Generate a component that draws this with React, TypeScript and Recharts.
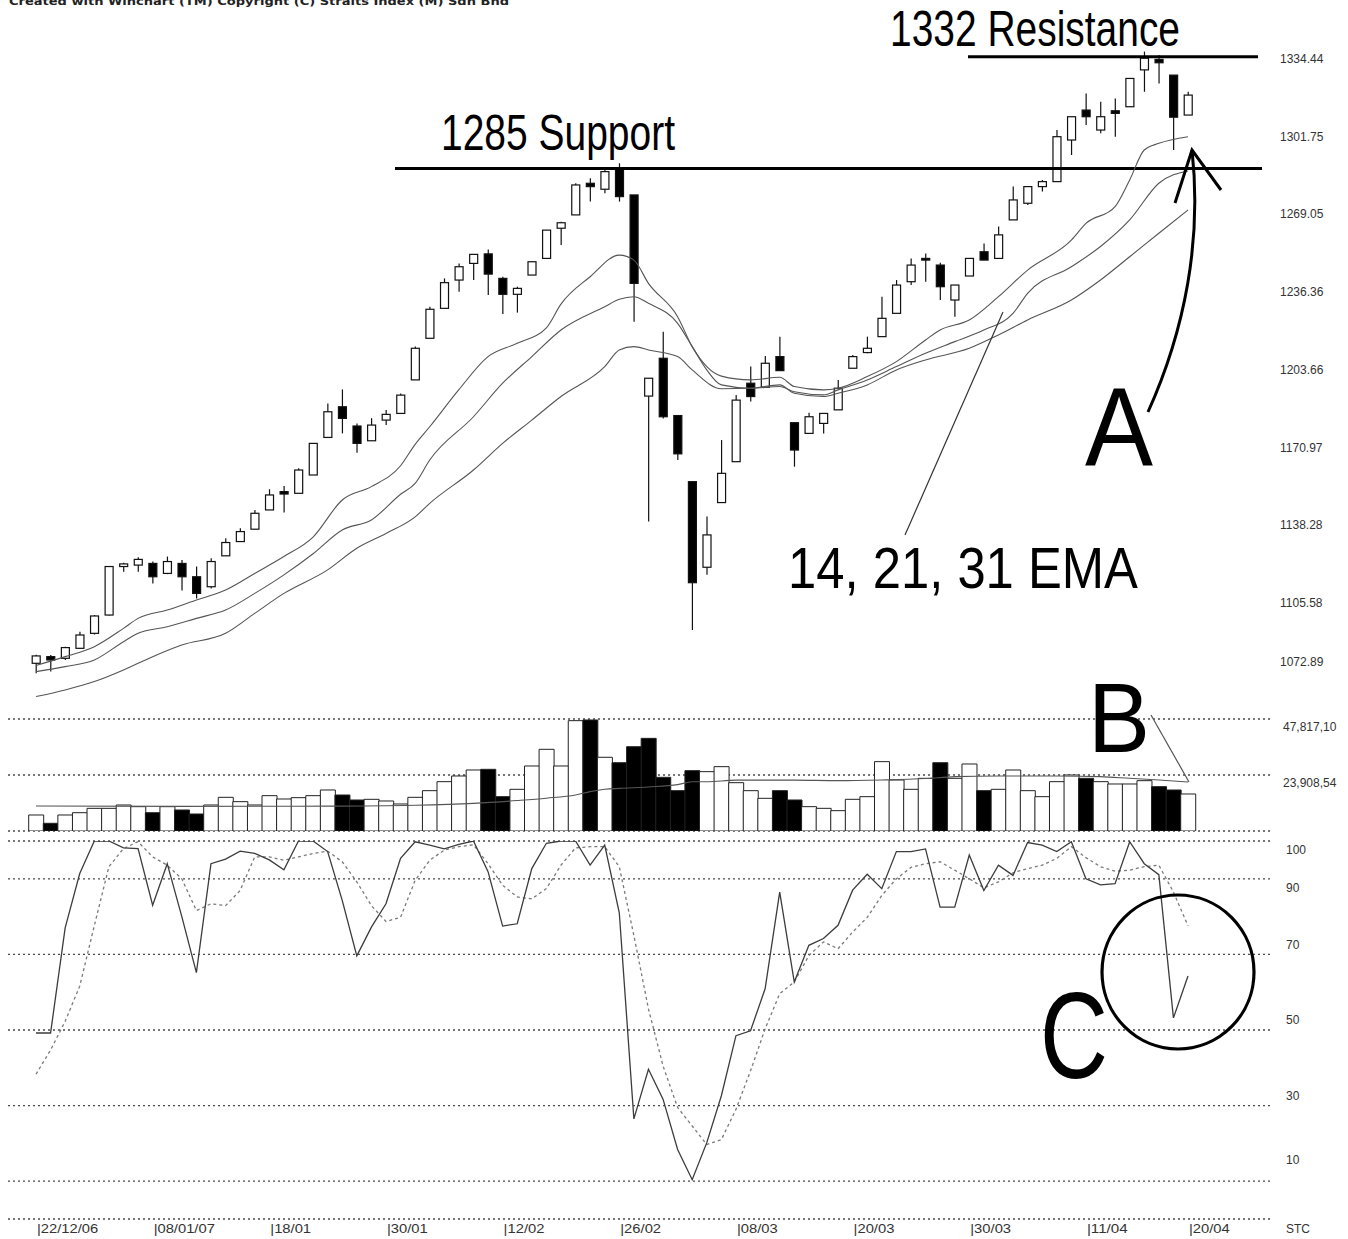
import React from 'react';
import { ComposedChart, Bar, Line, XAxis, YAxis, CartesianGrid, ReferenceLine, Cell } from 'recharts';

// ---------- categories / ticks ----------
const dateTicks = [0, 8, 16, 24, 32, 40, 48, 56, 64, 72, 79];
const dateLabels = ['22/12/06', '08/01/07', '18/01', '30/01', '12/02', '26/02', '08/03', '20/03', '30/03', '11/04', '20/04'];
const priceTicks = [1072.89, 1105.58, 1138.28, 1170.97, 1203.66, 1236.36, 1269.05, 1301.75, 1334.44];
const volTicks = [0, 23908.54, 47817.08];
const volTickLabels = ['', '23,908,54', '47,817,10'];
const stcTicks = [0, 10, 30, 50, 70, 90, 100];
const stcTickLabels = ['STC', '10', '30', '50', '70', '90', '100'];

// ---------- price (OHLC) ----------
const opens = [
  1076.9, 1079.7, 1079.0, 1083.2, 1089.5, 1097.2, 1117.6, 1118.2, 1118.9, 1114.7,
  1118.9, 1113.3, 1109.1, 1122.1, 1128.1, 1133.3, 1141.4, 1149.1, 1148.4, 1156.1,
  1171.9, 1184.8, 1176.7, 1170.5, 1179.2, 1182.0, 1196.1, 1213.6, 1226.2, 1238.1,
  1245.1, 1249.1, 1238.8, 1232.1, 1240.2, 1247.2, 1259.9, 1265.5, 1278.8, 1276.3,
  1285.1, 1273.9, 1189.3, 1205.2, 1181.1, 1153.3, 1117.3, 1144.5, 1161.7, 1194.7,
  1193.0, 1205.9, 1178.1, 1173.6, 1177.8, 1183.5, 1201.0, 1207.6, 1214.3, 1224.1,
  1237.4, 1247.2, 1244.4, 1229.7, 1239.8, 1250.0, 1247.2, 1263.4, 1270.4, 1277.4,
  1279.5, 1297.0, 1309.6, 1301.2, 1309.3, 1311.0, 1326.5, 1330.9, 1324.3, 1307.5,
];
const highs = [
  1080.5, 1080.4, 1083.9, 1090.2, 1097.2, 1117.8, 1119.2, 1121.5, 1119.7, 1121.8,
  1120.3, 1117.6, 1121.1, 1129.5, 1133.7, 1141.4, 1150.1, 1151.5, 1158.9, 1169.4,
  1186.2, 1192.1, 1177.8, 1180.0, 1183.4, 1190.4, 1210.1, 1226.9, 1238.8, 1245.1,
  1248.9, 1251.0, 1239.5, 1235.3, 1245.8, 1259.1, 1262.6, 1278.8, 1280.9, 1284.4,
  1287.2, 1273.9, 1196.8, 1216.4, 1181.1, 1153.3, 1138.6, 1170.8, 1189.8, 1201.7,
  1206.2, 1214.3, 1178.1, 1182.3, 1182.0, 1196.1, 1206.6, 1214.3, 1231.1, 1238.1,
  1247.2, 1249.3, 1245.4, 1236.0, 1247.2, 1253.5, 1260.6, 1277.4, 1277.4, 1280.2,
  1301.2, 1306.8, 1316.6, 1313.1, 1314.5, 1322.9, 1334.2, 1332.8, 1324.3, 1317.3,
];
const lows = [
  1072.7, 1073.4, 1078.3, 1082.9, 1089.0, 1097.0, 1115.4, 1115.4, 1110.5, 1114.4,
  1107.5, 1104.2, 1108.4, 1122.1, 1128.1, 1133.3, 1141.4, 1140.3, 1148.4, 1156.1,
  1171.9, 1173.6, 1165.5, 1170.5, 1177.1, 1182.0, 1196.1, 1213.6, 1226.2, 1233.2,
  1238.1, 1231.8, 1223.8, 1224.4, 1240.2, 1247.2, 1252.8, 1265.5, 1271.1, 1274.6,
  1271.1, 1220.6, 1136.5, 1179.9, 1162.4, 1090.9, 1114.1, 1144.5, 1161.7, 1187.0,
  1193.0, 1200.0, 1159.6, 1173.6, 1173.6, 1183.5, 1201.0, 1207.3, 1214.3, 1224.1,
  1236.0, 1237.4, 1229.7, 1222.7, 1239.8, 1246.5, 1247.2, 1263.4, 1269.7, 1275.3,
  1279.5, 1290.7, 1303.3, 1299.8, 1298.4, 1311.0, 1317.3, 1320.8, 1292.8, 1307.5,
];
const closes = [
  1080.0, 1078.3, 1083.5, 1088.8, 1096.8, 1117.6, 1118.7, 1120.6, 1113.3, 1119.7,
  1113.3, 1106.3, 1119.7, 1127.7, 1132.3, 1140.0, 1147.7, 1148.1, 1158.2, 1169.4,
  1182.7, 1179.9, 1169.4, 1177.1, 1181.6, 1189.7, 1209.4, 1225.8, 1237.0, 1243.7,
  1248.9, 1240.6, 1232.1, 1234.6, 1245.8, 1259.1, 1262.2, 1278.1, 1277.4, 1283.7,
  1273.2, 1236.7, 1196.8, 1180.6, 1165.0, 1110.8, 1130.9, 1156.8, 1187.6, 1189.1,
  1203.1, 1200.0, 1166.6, 1180.6, 1182.0, 1192.6, 1205.9, 1209.4, 1222.0, 1236.0,
  1244.4, 1246.5, 1235.3, 1236.0, 1247.2, 1246.5, 1257.1, 1271.8, 1277.4, 1279.5,
  1298.4, 1306.8, 1306.8, 1306.8, 1308.2, 1322.9, 1331.4, 1329.5, 1306.6, 1315.9,
];

// ---------- moving averages: [candle index, value] ----------
const ema14Pts: [number, number][] = [
  [0, 1076], [2, 1079.7], [4, 1083.9], [6, 1091.6], [7, 1095.8], [9, 1099.3], [11, 1103.5], [13, 1107.7],
  [15, 1114.7], [17, 1121.8], [19, 1130], [21, 1145.6], [23, 1151.2], [25, 1160], [26, 1169], [27, 1176.4],
  [29, 1192], [31, 1205.9], [33, 1211.5], [35, 1218], [36, 1228], [38, 1239.5], [40, 1248.6], [41, 1246.5],
  [42, 1236.7], [44, 1222.7], [45, 1210.1], [46, 1201.7], [47, 1197.7], [49, 1196.1], [51, 1197.2], [52, 1193.3],
  [54, 1191.9], [55, 1192.6], [57, 1197.5], [59, 1203.8], [61, 1212.9], [62, 1217.1], [64, 1221.3], [66, 1231.1],
  [68, 1242.3], [71, 1254.9], [72, 1261.9], [74, 1269], [75, 1280.2], [76, 1292.8], [77, 1295.6], [79, 1298.4],
];
const ema21Pts: [number, number][] = [
  [0, 1073.4], [2, 1075.5], [4, 1078.3], [6, 1086], [7, 1089.5], [9, 1092.3], [11, 1095.8], [13, 1099.3],
  [15, 1106.3], [17, 1114.1], [19, 1123], [21, 1133], [23, 1137.2], [25, 1148], [26, 1152.6], [27, 1162.4],
  [30, 1180.6], [32, 1194.7], [34, 1205.9], [36, 1217.1], [39, 1226.9], [40, 1230], [41, 1231.1], [42, 1228.3],
  [44, 1219.9], [45, 1210.1], [46, 1200.3], [47, 1194], [49, 1192.6], [51, 1193.3], [52, 1191.1], [54, 1189.8],
  [55, 1191.9], [57, 1196.1], [59, 1201.7], [61, 1207.3], [63, 1212.2], [65, 1217.1], [67, 1224.1], [68, 1232.5],
  [71, 1243.7], [73, 1252.2], [75, 1263.4], [77, 1278.8], [79, 1284],
];
const ema31Pts: [number, number][] = [
  [0, 1062.9], [2, 1065.7], [4, 1069.2], [6, 1074.1], [8, 1079.7], [10, 1084.6], [13, 1089.5], [15, 1097.9],
  [17, 1106.3], [20, 1116.2], [22, 1125.3], [24, 1131.5], [26, 1138.5], [27, 1144.2], [30, 1158.2], [32, 1169.4],
  [34, 1179.2], [36, 1189.1], [39, 1201.7], [40, 1208.7], [41, 1210.1], [42, 1208.7], [44, 1205.9], [45, 1200.3],
  [47, 1192.4], [49, 1192.6], [51, 1194], [52, 1190.5], [54, 1189.1], [55, 1190.5], [57, 1194], [59, 1200.3],
  [61, 1204.5], [64, 1209.4], [66, 1215], [68, 1221.3], [71, 1229.7], [73, 1238.1], [75, 1247.9], [77, 1257.8],
  [79, 1267.6],
];

// ---------- volume ----------
const volumes = [
  6832, 3288, 6832, 7814, 9679, 9679, 11102, 10390, 7814, 10390,
  8967, 7259, 11102, 14376, 12526, 11102, 15088, 13664, 14233, 15088,
  17507, 15372, 13237, 13522, 12810, 11529, 14376, 17223, 21066, 23485,
  26047, 26332, 14661, 17792, 27755, 34870, 27755, 47106, 47400, 31468,
  29164, 35996, 39554, 22916, 17223, 25762, 25335, 27470, 20628, 17223,
  13949, 17223, 13237, 10390, 9679, 8682, 13522, 14661, 29606, 21777,
  17792, 22489, 29164, 22489, 28609, 17223, 17792, 26047, 17223, 14661,
  21066, 23912, 22489, 21066, 20069, 20069, 21493, 18932, 17507, 15799,
];
const volDownIdx = [1, 8, 10, 11, 21, 22, 31, 32, 38, 40, 41, 42, 43, 44, 45, 51, 52, 62, 65, 72, 77, 78];
const volMAPts: [number, number][] = [
  [0, 10700], [10, 10500], [20, 10600], [26, 11000], [30, 11800], [33, 13000], [35, 14000], [37, 15400],
  [38, 16800], [39, 17800], [40, 18200], [42, 18800], [44, 19800], [45, 21000], [46, 21000], [48, 21700],
  [52, 21700], [55, 21500], [58, 21800], [61, 22400], [63, 23200], [66, 23500], [70, 23500], [73, 23200],
  [75, 22500], [77, 21800], [79, 20900],
];

// ---------- stochastic ----------
const stochK = [
  49.2, 49.2, 77, 91.4, 100, 100, 98.2, 98, 83, 94,
  80, 65.2, 94, 95.2, 97.3, 96.7, 95, 92.4, 100, 100,
  97.2, 84.3, 69.6, 77.2, 83.4, 95.4, 99.8, 98.9, 97.9, 99.1,
  100, 91.9, 77.5, 78.1, 92.7, 99.4, 100, 100, 93.6, 98.9,
  81, 26.5, 39.6, 31.7, 18.4, 10.4, 20.2, 32.6, 48.5, 49.8,
  60.9, 86.5, 62.7, 72.4, 74.2, 77.7, 87, 91.2, 87.4, 97.2,
  97.2, 97.9, 82.5, 82.5, 96.3, 86.9, 93.6, 90.9, 99.6, 98.9,
  97.2, 99.8, 90, 88.4, 88.7, 99.8, 94, 91.1, 53.2, 64.3,
];
const stochD = [
  38.3, 44.7, 52.3, 61.6, 77.6, 93.2, 98, 99.8, 95.8, 93.6,
  90, 81.6, 83.4, 82.9, 86.9, 95.8, 95.8, 94.9, 95.8, 96.7,
  97.3, 94.5, 89.2, 82.9, 78.7, 79.8, 89.6, 94.9, 97.6, 98.5,
  99, 94, 88.3, 85.2, 84.7, 87.4, 93.6, 98.2, 98.5, 98.5,
  93.2, 75, 55.6, 40.5, 29.5, 24.6, 19.7, 21, 29, 39.2,
  50.3, 59.6, 62.7, 69.7, 73.3, 71.5, 75.9, 79.8, 85.6, 90,
  93, 94, 94.5, 92.3, 90, 87.6, 89.2, 91.6, 92.7, 93.6,
  95.4, 98.5, 95.6, 93.2, 92, 92.3, 93.2, 93.6, 86.5, 77.6,
];

// ---------- table built from the arrays ----------
const sparse = (pts: [number, number][], i: number) => {
  const p = pts.find((q) => q[0] === i);
  return p ? p[1] : null;
};
const data = opens.map((o, i) => ({
  i,
  open: o,
  high: highs[i],
  low: lows[i],
  close: closes[i],
  range: [lows[i], highs[i]],
  ema14: sparse(ema14Pts, i),
  ema21: sparse(ema21Pts, i),
  ema31: sparse(ema31Pts, i),
  vol: volumes[i],
  volDown: volDownIdx.includes(i),
  volMA: sparse(volMAPts, i),
  k: stochK[i],
  d: stochD[i],
}));

// ---------- layout ----------
const W = 1348;
const PAD = { left: 20.7, right: 74.7 };
const YW = 78;
const LABEL_FONT = "'Liberation Sans', Arial, sans-serif";
const BIG_FONT = "'Liberation Sans Narrow', 'Liberation Sans', Arial, sans-serif";
const GRID = '#4a4a4a';

const Candle = (props: any) => {
  const { x, y, width, height, payload } = props;
  if (!payload) return null;
  const top = Math.min(y, y + height);
  const h = Math.abs(height);
  const { open, close, high, low } = payload;
  const k = h / Math.max(high - low, 0.0001);
  const cx = x + width / 2;
  const yO = top + (high - open) * k;
  const yC = top + (high - close) * k;
  const up = close >= open;
  const bTop = Math.min(yO, yC);
  const bH = Math.max(Math.abs(yO - yC), 1.5);
  return (
    <g>
      <line x1={cx} x2={cx} y1={top} y2={top + h} stroke="#111" strokeWidth={1.2} />
      <rect x={x + 0.5} y={bTop} width={width - 1} height={bH} fill={up ? '#fff' : '#000'} stroke="#111" strokeWidth={1.2} />
    </g>
  );
};

const PriceTick = (props: any) => {
  const { x, y, payload } = props;
  const ty = Math.min(y + 12, 666);
  return (
    <text x={x + 2} y={ty} fontSize={12} fill="#333" fontFamily={LABEL_FONT}>
      {payload.value.toFixed(2)}
    </text>
  );
};

const VolTick = (props: any) => {
  const { x, y, payload } = props;
  const idx = volTicks.indexOf(payload.value);
  const label = idx >= 0 ? volTickLabels[idx] : '';
  if (!label) return null;
  return (
    <text x={x + 5} y={y + 12} fontSize={12} fill="#333" fontFamily={LABEL_FONT}>
      {label}
    </text>
  );
};

const stcOffsets: Record<number, number> = { 100: 13, 90: 13, 70: -5, 50: -6, 30: -6, 10: -17, 0: 14 };
const StcTick = (props: any) => {
  const { x, y, payload } = props;
  const idx = stcTicks.indexOf(payload.value);
  const label = idx >= 0 ? stcTickLabels[idx] : '';
  return (
    <text x={x + 8} y={y + (stcOffsets[payload.value] ?? 4)} fontSize={12} fill="#333" fontFamily={LABEL_FONT}>
      {label}
    </text>
  );
};

const DateTick = (props: any) => {
  const { x, y, payload } = props;
  const idx = dateTicks.indexOf(payload.value);
  const label = idx >= 0 ? '|' + dateLabels[idx] : '';
  return (
    <text
      x={x + 1}
      y={y + 6}
      fontSize={12}
      fill="#333"
      fontFamily={LABEL_FONT}
      textLength={label.length * 6.8}
      lengthAdjust="spacingAndGlyphs"
    >
      {label}
    </text>
  );
};

const hLine = (xa: number, xb: number) => (p: any) => (
  <line x1={xa} x2={xb} y1={p.y1} y2={p.y2} stroke="#000" strokeWidth={3} />
);

export default function App() {
  return (
    <div style={{ position: 'absolute', left: 0, top: 0, width: W, height: 1239, background: '#fff', overflow: 'hidden' }}>
      {/* price panel */}
      <div style={{ position: 'absolute', left: 0, top: 0 }}>
        <ComposedChart width={W} height={710} data={data} margin={{ top: 40, right: 0, bottom: 10, left: 8 }}>
          <XAxis dataKey="i" type="category" scale="band" hide padding={PAD} />
          <YAxis
            orientation="right"
            width={YW}
            domain={[1061.46, 1339.07]}
            allowDataOverflow
            ticks={priceTicks}
            interval={0}
            axisLine={false}
            tickLine={false}
            tick={<PriceTick />}
          />
          <ReferenceLine y={1285} shape={hLine(395, 1262)} ifOverflow="visible" />
          <ReferenceLine y={1332} shape={hLine(968, 1258)} ifOverflow="visible" />
          <Line dataKey="ema14" type="monotone" connectNulls dot={false} stroke="#555" strokeWidth={1.1} isAnimationActive={false} />
          <Line dataKey="ema21" type="monotone" connectNulls dot={false} stroke="#555" strokeWidth={1.1} isAnimationActive={false} />
          <Line dataKey="ema31" type="monotone" connectNulls dot={false} stroke="#555" strokeWidth={1.1} isAnimationActive={false} />
          <Bar dataKey="range" barSize={9} shape={Candle} isAnimationActive={false} />
        </ComposedChart>
      </div>

      {/* volume panel */}
      <div style={{ position: 'absolute', left: 0, top: 710 }}>
        <ComposedChart width={W} height={126} data={data} margin={{ top: 9, right: 0, bottom: 5, left: 8 }} barCategoryGap={0}>
          <CartesianGrid vertical={false} stroke={GRID} strokeDasharray="2 3" strokeWidth={1.3} />
          <XAxis dataKey="i" type="category" scale="band" hide padding={PAD} />
          <YAxis
            orientation="right"
            width={YW}
            domain={[0, 47817.08]}
            allowDataOverflow
            ticks={volTicks}
            interval={0}
            axisLine={false}
            tickLine={false}
            tick={<VolTick />}
          />
          <Bar dataKey="vol" stroke="#222" strokeWidth={1} isAnimationActive={false}>
            {data.map((d) => (
              <Cell key={d.i} fill={d.volDown ? '#000' : '#fff'} />
            ))}
          </Bar>
          <Line dataKey="volMA" type="monotone" connectNulls dot={false} stroke="#555" strokeWidth={1.1} isAnimationActive={false} />
        </ComposedChart>
      </div>

      {/* stochastic panel */}
      <div style={{ position: 'absolute', left: 0, top: 835 }}>
        <ComposedChart width={W} height={404} data={data} margin={{ top: 6, right: 0, bottom: 0, left: 8 }}>
          <CartesianGrid vertical={false} stroke={GRID} strokeDasharray="2 3" strokeWidth={1.3} />
          <XAxis
            dataKey="i"
            type="category"
            scale="band"
            height={20}
            padding={PAD}
            ticks={dateTicks}
            interval={0}
            axisLine={false}
            tickLine={false}
            tick={<DateTick />}
          />
          <YAxis
            orientation="right"
            width={YW}
            domain={[0, 100]}
            allowDataOverflow
            ticks={stcTicks}
            interval={0}
            axisLine={false}
            tickLine={false}
            tick={<StcTick />}
          />
          <Line dataKey="d" type="linear" dot={false} stroke="#7a7a7a" strokeWidth={1.3} strokeDasharray="3 3" isAnimationActive={false} />
          <Line dataKey="k" type="linear" dot={false} stroke="#3c3c3c" strokeWidth={1.3} isAnimationActive={false} />
        </ComposedChart>
      </div>

      {/* annotations */}
      <svg width={W} height={1239} style={{ position: 'absolute', left: 0, top: 0, pointerEvents: 'none' }}>
        <text x={9} y={5} fontSize={10} fontWeight="bold" fill="#222" fontFamily="'DejaVu Sans', Verdana, sans-serif" textLength={500} lengthAdjust="spacingAndGlyphs">
          Created with Winchart (TM)  Copyright (C) Straits Index (M) Sdn Bhd
        </text>
        <text x={890} y={46} fontSize={50} fill="#000" fontFamily={BIG_FONT} textLength={290} lengthAdjust="spacingAndGlyphs">
          1332 Resistance
        </text>
        <text x={441} y={150} fontSize={50} fill="#000" fontFamily={BIG_FONT} textLength={234} lengthAdjust="spacingAndGlyphs">
          1285 Support
        </text>
        <text x={788} y={588} fontSize={58} fill="#000" fontFamily={BIG_FONT} textLength={350} lengthAdjust="spacingAndGlyphs">
          14, 21, 31 EMA
        </text>
        <line x1={905} y1={535} x2={1003} y2={312} stroke="#333" strokeWidth={1.2} />
        <text x={1085} y={465} fontSize={112} fill="#000" fontFamily={BIG_FONT} textLength={68} lengthAdjust="spacingAndGlyphs">
          A
        </text>
        <path d="M1148,412 C1185,330 1202,240 1192,150" fill="none" stroke="#000" strokeWidth={3} />
        <path d="M1175,203 L1192,150 L1221,190" fill="none" stroke="#000" strokeWidth={3} />
        <text x={1088} y={752} fontSize={98} fill="#000" fontFamily={BIG_FONT} textLength={62} lengthAdjust="spacingAndGlyphs">
          B
        </text>
        <line x1={1151} y1={715} x2={1189} y2={782} stroke="#555" strokeWidth={1.2} />
        <text x={1040} y={1078} fontSize={122} fill="#000" fontFamily={BIG_FONT} textLength={68} lengthAdjust="spacingAndGlyphs">
          C
        </text>
        <ellipse cx={1178} cy={972} rx={76} ry={77} fill="none" stroke="#000" strokeWidth={3.2} />
      </svg>
    </div>
  );
}
